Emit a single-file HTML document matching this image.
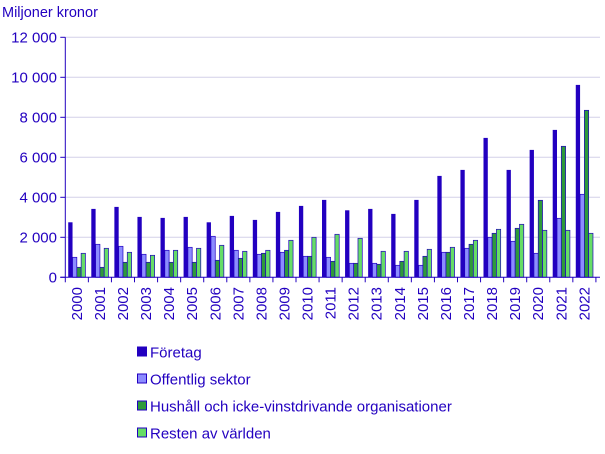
<!DOCTYPE html>
<html><head><meta charset="utf-8"><style>
body{margin:0;background:#fff;}
svg{display:block;font-family:"Liberation Sans",sans-serif;}
</style></head><body>
<svg id="c" width="605" height="454" xmlns="http://www.w3.org/2000/svg">
<text x="2" y="17" font-size="14.5" fill="#2200c0">Miljoner kronor</text>
<g id="grid"></g><g id="bars"></g><g id="axes"></g><g id="legend"></g>
</svg>
<script>
const years=["2000","2001","2002","2003","2004","2005","2006","2007","2008","2009","2010","2011","2012","2013","2014","2015","2016","2017","2018","2019","2020","2021","2022"];
const foretag=[2750,3420,3520,3020,2970,3020,2750,3070,2870,3270,3570,3870,3350,3420,3170,3870,5070,5370,6970,5370,6370,7370,9620];
const offentlig=[1000,1650,1550,1150,1350,1500,2050,1350,1150,1250,1050,1000,700,700,600,600,1250,1450,2000,1800,1200,2950,4150];
const hushall=[500,500,750,750,750,750,850,950,1200,1350,1050,800,700,650,800,1050,1250,1650,2200,2450,3850,6550,8350];
const resten=[1200,1450,1250,1100,1350,1450,1600,1300,1350,1850,2000,2150,1950,1300,1300,1400,1500,1850,2400,2650,2350,2350,2200];
const yTicks=[0,2000,4000,6000,8000,10000,12000];
const yTickLabels=["0","2 000","4 000","6 000","8 000","10 000","12 000"];
const seriesNames=["Företag","Offentlig sektor","Hushåll och icke-vinstdrivande organisationer","Resten av världen"];
const NS="http://www.w3.org/2000/svg";
const X0=65.3,SLOT=23.07,Y0=277.3,YMAX=12000,YTOP=37.3;
const yS=v=>Y0-(v/YMAX)*(Y0-YTOP);
const xS=i=>X0+i*SLOT;
const fills=["#2200c0","#8c8cff","#2e9a3a","#66dd66"];
const data=[foretag,offentlig,hushall,resten];
function mk(tag,attrs,parent){const e=document.createElementNS(NS,tag);for(const k in attrs)e.setAttribute(k,attrs[k]);parent.appendChild(e);return e;}
const grid=document.getElementById('grid'),bars=document.getElementById('bars'),axes=document.getElementById('axes'),legend=document.getElementById('legend');
yTicks.forEach((t,i)=>{
 const y=yS(t);
 if(t>0){const l=mk('line',{x1:X0,x2:600,y1:y,y2:y,stroke:'#d4d0e8','stroke-width':1},grid);
 
 }
 mk('line',{x1:X0-5,x2:X0,y1:y,y2:y,stroke:'#2200c0'},axes);
 const tx=mk('text',{x:57,y:y+5,'text-anchor':'end','font-size':15,fill:'#2200c0'},axes);
 tx.textContent=yTickLabels[i];
 
 
});
const bw=4.3;
years.forEach((yr,i)=>{
 const start=xS(i)+(SLOT-4*bw)/2;
 data.forEach((s,k)=>{
  const y=yS(s[i]);
  const r=mk('rect',{x:start+k*bw,y:y,width:bw,height:Y0-y,fill:fills[k],stroke:k==0?'none':'#2200c0','stroke-width':0.7},bars);
  
  
 });
 mk('line',{x1:xS(i+1),x2:xS(i+1),y1:Y0,y2:Y0+5,stroke:'#2200c0'},axes);
 const cx=xS(i)+SLOT/2+5;
 const t=mk('text',{x:cx,y:287,'text-anchor':'end','font-size':15,fill:'#2200c0',transform:`rotate(-90 ${cx} 287)`},axes);
 t.textContent=yr;
 
 
});
mk('line',{x1:X0,x2:X0,y1:YTOP,y2:Y0,stroke:'#2200c0'},axes);
mk('line',{x1:X0,x2:X0,y1:Y0,y2:Y0+5,stroke:'#2200c0'},axes);
mk('line',{x1:X0-5,x2:600,y1:Y0,y2:Y0,stroke:'#2200c0'},axes);
seriesNames.forEach((n,k)=>{
 const y=352+k*27;
 const r=mk('rect',{x:137.5,y:y-5,width:9,height:9,fill:fills[k],stroke:'#2200c0','stroke-width':1},legend);
 
 
 const t=mk('text',{x:150,y:y+5.5,'font-size':15,fill:'#2200c0'},legend);
 t.textContent=n;
 
 
});
</script>
</body></html>
